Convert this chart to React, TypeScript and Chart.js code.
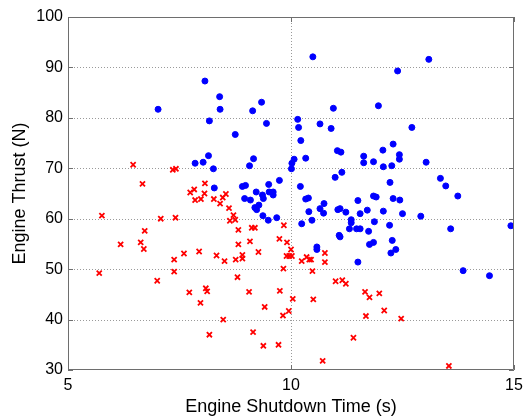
import { useEffect, useRef } from "react";
import { Chart, registerables } from "chart.js";

Chart.register(...registerables);

// Group A (blue circles): shutdown time (s) and thrust (N)
const blueTime = [
  7.02, 8.07, 8.40, 8.41, 8.17, 8.15, 7.85, 8.03, 8.26, 8.28,
  10.49, 9.34, 9.14, 9.45, 8.75, 9.16, 9.07, 8.91, 8.98, 9.50,
  9.74, 10.21, 10.15, 10.17, 10.65, 10.90, 10.22, 10.95, 11.04, 11.12,
  11.63, 11.63, 11.14, 10.99, 10.07, 10.02, 10.01, 10.33, 13.09, 12.39,
  11.96, 12.71, 12.29, 12.06, 11.85, 12.43, 12.43, 12.07, 12.26, 13.03,
  12.22, 13.35, 13.47, 13.74, 11.85, 11.91, 12.29, 12.44, 11.55, 11.71,
  12.07, 12.50, 12.91, 11.87, 12.21, 11.74, 13.58, 14.93, 11.76, 11.85,
  12.27, 12.24, 12.35, 13.86, 14.45, 11.50, 11.50, 11.10, 11.23, 11.35,
  11.35, 9.22, 9.36, 9.38, 9.51, 9.60, 9.60, 8.96, 9.09, 9.28,
  9.19, 9.23, 9.37, 9.49, 9.68, 10.33, 10.39, 10.40, 10.65, 10.74,
  10.73, 10.47, 10.24, 11.05, 11.08, 11.10, 11.31, 11.47, 11.55, 10.58,
  10.58,
];
const blueThrust = [
  81.7, 87.3, 84.2, 81.7, 79.4, 72.5, 71.0, 71.2, 69.9, 66.1,
  92.1, 83.1, 81.4, 78.9, 76.7, 71.9, 70.5, 66.4, 66.6, 66.8,
  67.6, 66.4, 79.7, 78.1, 78.8, 77.9, 75.5, 81.9, 73.5, 73.2,
  72.4, 71.1, 69.2, 68.2, 71.8, 71.0, 69.9, 72.0, 91.6, 89.3,
  82.4, 78.1, 74.8, 73.6, 71.3, 72.7, 71.8, 70.3, 70.5, 71.2,
  67.2, 68.0, 66.5, 64.5, 64.5, 64.3, 64.0, 63.7, 61.0, 61.7,
  61.5, 61.0, 60.5, 59.4, 58.7, 57.5, 58.0, 58.6, 54.9, 55.3,
  55.7, 53.2, 53.9, 49.7, 48.7, 51.4, 63.6, 62.0, 61.3, 59.8,
  59.2, 65.3, 64.7, 64.0, 65.3, 65.3, 64.7, 64.0, 63.7, 62.7,
  62.2, 61.8, 60.6, 59.7, 60.2, 63.9, 64.1, 61.4, 62.0, 63.0,
  61.1, 59.7, 59.0, 61.8, 56.7, 56.4, 58.0, 58.0, 58.0, 54.4,
  53.9,
];

// Group B (red crosses): shutdown time (s) and thrust (N)
const redTime = [
  6.46, 6.67, 7.35, 7.42, 7.83, 8.07, 5.76, 5.70, 6.18, 6.63,
  6.70, 6.72, 7.08, 7.41, 7.00, 7.38, 7.38, 7.60, 7.94, 7.72,
  7.97, 8.09, 8.12, 8.17, 8.33, 7.74, 8.06, 7.98, 7.85, 8.27,
  8.41, 8.54, 8.47, 8.61, 8.71, 8.63, 8.75, 8.51, 8.76, 8.82,
  8.82, 8.80, 8.48, 9.12, 9.19, 9.08, 9.27, 8.91, 8.91, 9.06,
  9.41, 9.15, 9.38, 9.72, 9.74, 9.84, 9.75, 9.82, 9.95, 10.04,
  9.91, 10.00, 9.90, 9.96, 10.02, 9.83, 10.24, 10.35, 10.41, 10.45,
  10.48, 10.76, 10.76, 10.50, 10.71, 11.00, 11.15, 11.23, 11.40, 11.66,
  11.76, 11.68, 11.98, 12.09, 12.47, 13.54,
];
const redThrust = [
  70.7, 66.9, 69.7, 69.9, 65.8, 67.0, 60.6, 49.2, 54.9, 55.3,
  54.0, 57.6, 60.0, 60.2, 47.7, 51.9, 49.5, 53.1, 53.5, 45.4,
  43.3, 46.2, 45.6, 37.0, 52.7, 65.2, 65.0, 63.9, 63.7, 63.9,
  63.0, 64.9, 64.2, 62.1, 60.7, 59.6, 59.8, 51.6, 51.9, 57.8,
  54.9, 48.4, 40.0, 58.2, 58.2, 55.5, 53.4, 52.8, 52.1, 45.5,
  42.5, 37.5, 34.8, 35.0, 56.0, 58.7, 45.7, 40.8, 41.7, 44.1,
  55.3, 53.9, 52.6, 52.6, 52.6, 50.1, 51.6, 52.4, 51.9, 51.9,
  49.6, 53.2, 51.4, 44.0, 31.8, 47.6, 47.8, 47.1, 36.4, 45.5,
  44.4, 40.7, 45.2, 41.8, 40.2, 30.8,
];

const xTicks = [5, 10, 15];
const yTicks = [30, 40, 50, 60, 70, 80, 90, 100];

const FONT = "'Liberation Sans', Arial, Helvetica, sans-serif";

// Dotted grid at the inner ticks, drawn beneath the markers
const dottedGrid = {
  id: "dottedGrid",
  beforeDatasetsDraw(chart: any) {
    const { ctx, chartArea, scales } = chart;
    const { left, right, top, bottom } = chartArea;
    ctx.save();
    ctx.strokeStyle = "#9a9a9a";
    ctx.lineWidth = 1;
    ctx.setLineDash([1, 2]);
    ctx.beginPath();
    for (const v of xTicks.slice(1, -1)) {
      const px = Math.round(scales.x.getPixelForValue(v)) + 0.5;
      ctx.moveTo(px, top);
      ctx.lineTo(px, bottom);
    }
    for (const v of yTicks.slice(1, -1)) {
      const py = Math.round(scales.y.getPixelForValue(v)) + 0.5;
      ctx.moveTo(left, py);
      ctx.lineTo(right, py);
    }
    ctx.stroke();
    ctx.restore();
  },
};

// Box around the plot area with inward-pointing tick marks on all four sides
const boxFrame = {
  id: "boxFrame",
  afterDraw(chart: any) {
    const { ctx, chartArea, scales } = chart;
    const { left, right, top, bottom } = chartArea;
    const len = 5;
    ctx.save();
    ctx.strokeStyle = "#6e6e6e";
    ctx.lineWidth = 1;
    ctx.beginPath();
    ctx.rect(Math.round(left) + 0.5, Math.round(top) + 0.5, Math.round(right - left) - 1, Math.round(bottom - top) - 1);
    ctx.stroke();
    ctx.beginPath();
    for (const v of xTicks) {
      const px = Math.round(scales.x.getPixelForValue(v)) + 0.5;
      ctx.moveTo(px, bottom);
      ctx.lineTo(px, bottom - len);
      ctx.moveTo(px, top);
      ctx.lineTo(px, top + len);
    }
    for (const v of yTicks) {
      const py = Math.round(scales.y.getPixelForValue(v)) + 0.5;
      ctx.moveTo(left, py);
      ctx.lineTo(left + len, py);
      ctx.moveTo(right, py);
      ctx.lineTo(right - len, py);
    }
    ctx.stroke();
    ctx.restore();
  },
};

export default function App() {
  const canvasRef = useRef<HTMLCanvasElement | null>(null);

  useEffect(() => {
    if (!canvasRef.current) return;
    const blue = blueTime.map((t, i) => ({ x: t, y: blueThrust[i] }));
    const red = redTime.map((t, i) => ({ x: t, y: redThrust[i] }));

    const chart = new Chart(canvasRef.current, {
      type: "scatter",
      data: {
        datasets: [
          {
            label: "A",
            data: blue,
            pointStyle: "circle",
            pointRadius: 3,
            borderWidth: 1,
            backgroundColor: "#0000ff",
            borderColor: "#0000ff",
          },
          {
            label: "B",
            data: red,
            pointStyle: "crossRot",
            pointRadius: 3.6,
            borderWidth: 1.8,
            backgroundColor: "#ff0000",
            borderColor: "#ff0000",
          },
        ],
      },
      options: {
        animation: false,
        responsive: false,
        maintainAspectRatio: false,
        layout: { padding: { top: 17, right: 12, left: 0, bottom: 0 } },
        plugins: { legend: { display: false }, tooltip: { enabled: false } },
        scales: {
          x: {
            type: "linear",
            min: 5,
            max: 15,
            afterBuildTicks: (s: any) => {
              s.ticks = xTicks.map((v) => ({ value: v }));
            },
            afterFit: (s: any) => {
              s.height = 49;
              s.paddingLeft = 0;
              s.paddingRight = 0;
            },
            ticks: {
              color: "#000",
              padding: 6,
              font: { family: FONT, size: 16 },
            },
            grid: { display: false, drawTicks: false },
            border: { display: false },
            title: {
              display: true,
              text: "Engine Shutdown Time (s)",
              color: "#000",
              font: { family: FONT, size: 18 },
              padding: { top: 0, bottom: 1 },
            },
          },
          y: {
            type: "linear",
            min: 30,
            max: 100,
            afterBuildTicks: (s: any) => {
              s.ticks = yTicks.map((v) => ({ value: v }));
            },
            afterFit: (s: any) => {
              s.width = 68;
              s.paddingTop = 0;
              s.paddingBottom = 0;
            },
            ticks: {
              color: "#000",
              padding: 5,
              font: { family: FONT, size: 16 },
            },
            grid: { display: false, drawTicks: false },
            border: { display: false },
            title: {
              display: true,
              text: "Engine Thrust (N)",
              color: "#000",
              font: { family: FONT, size: 18 },
              padding: { top: 9, bottom: 0 },
            },
          },
        },
      },
      plugins: [dottedGrid, boxFrame],
    });

    return () => chart.destroy();
  }, []);

  return (
    <div style={{ position: "fixed", left: 0, top: 0, width: 526, height: 419, background: "#fff" }}>
      <canvas ref={canvasRef} width={526} height={419} style={{ display: "block" }} />
    </div>
  );
}
